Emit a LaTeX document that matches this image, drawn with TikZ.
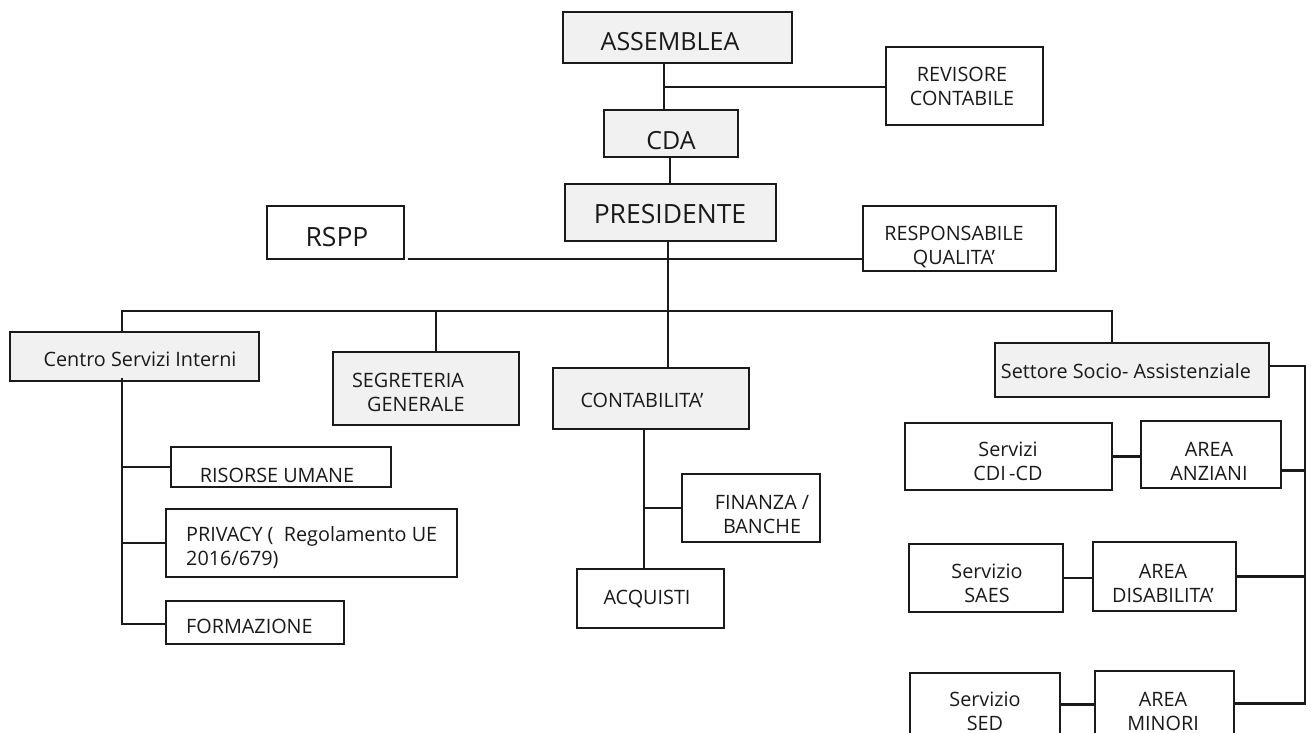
\documentclass[tikz,border=0pt]{standalone}
\usepackage{fontspec}
\setmainfont{Open Sans}
\usetikzlibrary{calc}
\definecolor{boxgray}{HTML}{F1F1F1}
\definecolor{ink}{HTML}{1A1A1A}
\newcommand\obox[6]{%
  \node[#6, minimum width={#4-#2}, minimum height={#5-#3}] (#1) at ({(#2+#4)/2},{(#3+#5)/2}) {};}
\tikzset{
  plainbox/.style={draw=ink, line width=1.6pt, fill=white, inner sep=0pt, outer sep=0pt},
  graybox/.style={plainbox, fill=boxgray},
  conn/.style={draw=ink, line width=2.2pt},
  bigtxt/.style={inner sep=0pt, font=\fontsize{25}{30}\selectfont, text=ink},
  txt/.style={inner sep=0pt, align=center, font=\fontsize{19.8}{24}\selectfont, text=ink},
  ltxt/.style={inner sep=0pt, align=left, font=\fontsize{19.8}{24}\selectfont, text=ink}
}
\begin{document}
\begin{tikzpicture}[x=1pt,y=-1pt]
\useasboundingbox (0,0) rectangle (1311,733);
\clip (0,0) rectangle (1311,733);
\fill[white] (0,0) rectangle (1311,733);
% boxes
\obox{ass}{563}{12}{792}{63}{graybox}
\obox{rev}{886}{47}{1043}{125}{plainbox}
\obox{cda}{604}{110}{738}{157}{graybox}
\obox{pres}{565}{184}{776}{241}{graybox}
\obox{rspp}{267}{206}{404}{259}{plainbox}
\obox{resp}{863}{206}{1056}{271}{plainbox}
\obox{csi}{10}{332}{259}{381}{graybox}
\obox{seg}{333}{352}{519}{425}{graybox}
\obox{cont}{553}{368}{749}{429}{graybox}
\obox{set}{995}{343}{1269}{397}{graybox}
\obox{ris}{171}{447}{391}{487}{plainbox}
\obox{priv}{166}{509}{457}{577}{plainbox}
\obox{form}{166}{601}{344}{644}{plainbox}
\obox{fin}{682}{474}{820}{542}{plainbox}
\obox{acq}{577}{569}{724}{628}{plainbox}
\obox{cdi}{905}{423}{1112}{490}{plainbox}
\obox{anz}{1141}{421}{1281}{488}{plainbox}
\obox{saes}{909}{544}{1063}{612}{plainbox}
\obox{dis}{1093}{542}{1236}{611}{plainbox}
\obox{sed}{910}{673}{1060}{736}{plainbox}
\obox{min}{1095}{671}{1234}{736}{plainbox}
% texts
\node[bigtxt] (assT) at (670,42) {ASSEMBLEA};
\node[txt] (revT) at (962,86) {REVISORE\\CONTABILE};
\node[bigtxt] (cdaT) at (671,141) {CDA};
\node[bigtxt, font=\fontsize{26.5}{30}\selectfont] (presT) at (670,214) {PRESIDENTE};
\node[bigtxt, font=\fontsize{26.5}{30}\selectfont] (rsppT) at (337,237) {RSPP};
\node[txt] (respT) at (954,247) {RESPONSABILE\\QUALITA'};
\node[txt] (csiT) at (140,359) {Centro Servizi Interni};
\node[txt] (segT) at (408,392) {SEGRETERIA\\\hspace*{0.8em}GENERALE};
\node[txt] (contT) at (642,400) {CONTABILITA'};
\node[txt] (setT) at (1126,371) {Settore Socio- Assistenziale};
\node[txt] (risT) at (277,475) {RISORSE UMANE};
\node[ltxt, anchor=west] (privT) at (186,548) {PRIVACY (\ \ Regolamento UE\\2016/679)};
\node[ltxt, anchor=west] (formT) at (186,626) {FORMAZIONE};
\node[txt] (finT) at (762,514) {FINANZA /\\BANCHE};
\node[txt] (acqT) at (647,599) {ACQUISTI};
\node[txt] (cdiT) at (1008,461) {Servizi\\CDI\,-CD};
\node[txt] (anzT) at (1209,461) {AREA\\ANZIANI};
\node[txt] (saesT) at (987,583) {Servizio\\SAES};
\node[txt] (disT) at (1163,583) {AREA\\DISABILITA'};
\node[txt] (sedT) at (985,711) {Servizio\\SED};
\node[txt] (minT) at (1163,711) {AREA\\MINORI};
% connector coordinates
\coordinate (j1) at (664,87);
\coordinate (j2) at (670,0);
\coordinate (sp) at (668,311);
\coordinate (b1) at (122,311);
\coordinate (b2) at (436,311);
\coordinate (b4) at (1112,311);
\coordinate (ls) at (122,624);
\coordinate (cs) at (644,0);
\coordinate (rs) at (1305,366);
% connectors
\draw[conn] (ass.south -| j1) -- (cda.north -| j1);
\draw[conn] (j1) -- (rev.west |- j1);
\draw[conn] (cda.south -| j2) -- (pres.north -| j2);
\draw[conn] (pres.south -| sp) -- (cont.north -| sp);
\draw[conn] ([xshift=4pt]rspp.south east) -- (rspp.south east -| resp.west);
\draw[conn] (csi.north -| b1) -- (b1) -- (b4) -- (set.north -| b4);
\draw[conn] (b2) -- (seg.north -| b2);
\draw[conn] ([yshift=3pt]csi.south -| ls) -- (ls) -- (form.west |- ls);
\draw[conn] (ris.west -| ls) -- (ris.west);
\draw[conn] (priv.west -| ls) -- (priv.west);
\draw[conn] (cont.south -| cs) -- (acq.north -| cs);
\draw[conn] (fin.west -| cs) -- (fin.west);
\draw[conn] (set.east |- rs) -- (rs) -- (min.east -| rs) -- (min.east);
\draw[conn] ([yshift=-16pt]anz.east -| rs) -- ([yshift=-16pt]anz.east);
\draw[conn] (dis.east -| rs) -- (dis.east);
\draw[conn] (cdi.east) -- (anz.west |- cdi.east);
\draw[conn] (saes.east) -- (dis.west |- saes.east);
\draw[conn] (sed.east) -- (min.west |- sed.east);
\end{tikzpicture}
\end{document}
